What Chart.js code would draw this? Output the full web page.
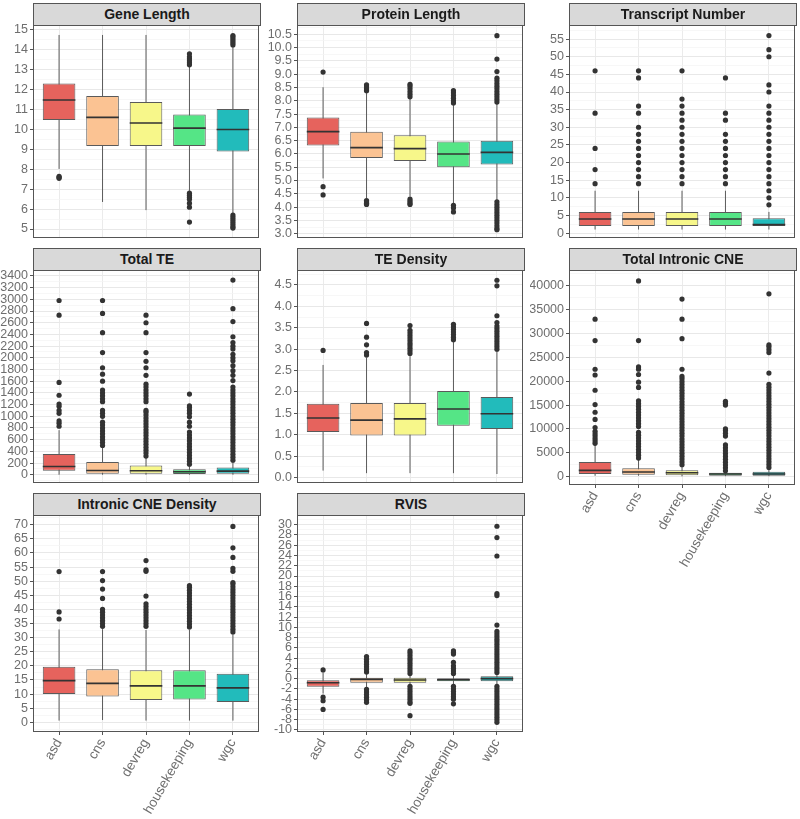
<!DOCTYPE html>
<html>
<head>
<meta charset="utf-8">
<script src="https://cdn.jsdelivr.net/npm/chart.js@4.4.0/dist/chart.umd.min.js"></script>
<style>
body { margin: 0; background: #fff; width: 800px; height: 819px; position: relative; overflow: hidden; font-family: "Liberation Sans", Arial, sans-serif; }
.panel { position: absolute; }
.strip { position: absolute; background: #d9d9d9; border: 1px solid #555; box-sizing: border-box; text-align: center; font-weight: bold; font-size: 14px; color: #1a1a1a; z-index: 2; }
</style>
</head>
<body>
<script>
const categories = ['asd', 'cns', 'devreg', 'housekeeping', 'wgc']
const boxColors = ['#e6635d', '#fbc393', '#f7f78a', '#55e586', '#22bbbb']

// stats per category: [lower whisker, q1, median, q3, upper whisker]
const geneLengthStats = [[8.02, 10.48, 11.48, 12.31, 14.75], [6.36, 9.17, 10.61, 11.68, 14.75], [5.95, 9.17, 10.33, 11.38, 14.75], [6.92, 9.17, 10.07, 10.75, 13.2], [5.75, 8.89, 10.0, 11.03, 14.15]]
const geneLengthOut = [[7.55, 7.6, 7.65], [], [], [13.25, 13.35, 13.45, 13.55, 13.65, 13.8, 6.8, 6.7, 6.6, 6.5, 6.3, 6.1, 5.35], [14.25, 14.35, 14.45, 14.55, 14.65, 14.72, 5.7, 5.6, 5.5, 5.4, 5.3, 5.2, 5.1, 5.05]]
const geneLengthTicks = [5, 6, 7, 8, 9, 10, 11, 12, 13, 14, 15]

const proteinLengthStats = [[5.08, 6.32, 6.84, 7.37, 8.51], [4.33, 5.85, 6.24, 6.84, 8.3], [4.4, 5.74, 6.2, 6.7, 8.1], [4.15, 5.5, 6.0, 6.47, 7.85], [4.27, 5.6, 6.06, 6.5, 7.88]]
const proteinLengthOut = [[9.08, 4.77, 4.46], [8.38, 8.45, 8.52, 8.6, 4.25, 4.2, 4.15, 4.1], [8.15, 8.25, 8.35, 8.45, 8.55, 8.62, 4.3, 4.22, 4.15, 4.1], [7.92, 8.0, 8.1, 8.2, 8.3, 8.38, 4.07, 3.97, 3.82], [10.45, 9.57, 9.1, 7.95, 8.05, 8.15, 8.25, 8.35, 8.45, 8.55, 8.65, 8.75, 8.85, 4.2, 4.1, 4.0, 3.9, 3.8, 3.7, 3.6, 3.5, 3.4, 3.3, 3.2, 3.15]]
const proteinLengthTicks = [3.0, 3.5, 4.0, 4.5, 5.0, 5.5, 6.0, 6.5, 7.0, 7.5, 8.0, 8.5, 9.0, 9.5, 10.0, 10.5]

const transcriptStats = [[1, 2, 4, 6, 12], [1, 2, 4, 6, 12], [1, 2, 4, 6, 12], [1, 2, 4, 6, 12], [1, 2, 2.4, 4.2, 6]]
const transcriptOut = [[14, 18, 24, 34, 46], [14, 16, 18, 20, 22, 24, 26, 28, 30, 34, 36, 44, 46], [14, 16, 18, 20, 22, 24, 26, 28, 30, 32, 34, 36, 38, 46], [14, 16, 18, 20, 22, 24, 26, 28, 32, 34, 44], [8, 10, 12, 14, 16, 18, 20, 22, 24, 26, 28, 30, 32, 34, 36, 40, 42, 50, 52, 56]]
const transcriptTicks = [5, 10, 15, 20, 25, 30, 35, 40, 45, 50, 55]

const totalTEStats = [[0, 68, 141, 356, 763], [0, 17, 73, 220, 470], [0, 17, 68, 158, 300], [0, 11, 51, 96, 160], [0, 17, 62, 124, 230]]
const totalTEOut = [
  [830, 880, 920, 1050, 1100, 1170, 1210, 1360, 1580, 2730, 2980],
  [500, 550, 600, 650, 700, 750, 800, 850, 900, 1000, 1050, 1100, 1250, 1300, 1350, 1400, 1450, 1600, 1720, 1830, 2090, 2430, 2760, 2980],
  [320, 370, 420, 470, 520, 570, 620, 670, 720, 770, 820, 870, 920, 970, 1020, 1070, 1100, 1250, 1300, 1350, 1400, 1450, 1500, 1550, 1700, 1830, 1940, 2090, 2430, 2600, 2730],
  [180, 230, 280, 330, 380, 430, 480, 530, 580, 630, 680, 730, 830, 900, 990, 1050, 1100, 1150, 1180, 1380],
  [250, 300, 350, 400, 450, 500, 550, 600, 650, 700, 750, 800, 850, 900, 950, 1000, 1050, 1100, 1150, 1200, 1250, 1300, 1350, 1400, 1450, 1500, 1610, 1700, 1780, 1865, 1950, 2000, 2060, 2150, 2200, 2260, 2360, 2620, 2840, 3330]
]
const totalTETicks = [0, 200, 400, 600, 800, 1000, 1200, 1400, 1600, 1800, 2000, 2200, 2400, 2600, 2800, 3000, 3200, 3400]

const teDensityStats = [[0.16, 1.06, 1.39, 1.72, 2.63], [0.1, 0.98, 1.34, 1.74, 2.8], [0.1, 0.98, 1.37, 1.74, 2.85], [0.1, 1.21, 1.6, 2.02, 3.18], [0.08, 1.13, 1.49, 1.88, 2.97]]
const teDensityOut = [[2.97], [2.86, 2.92, 3.1, 3.28, 3.6], [2.9, 2.96, 3.02, 3.08, 3.14, 3.2, 3.26, 3.32, 3.38, 3.44, 3.55], [3.22, 3.28, 3.34, 3.4, 3.46, 3.52, 3.58], [3.0, 3.06, 3.12, 3.18, 3.24, 3.3, 3.36, 3.42, 3.48, 3.54, 3.62, 3.78, 4.48, 4.61]]
const teDensityTicks = [0.0, 0.5, 1.0, 1.5, 2.0, 2.5, 3.0, 3.5, 4.0, 4.5]

const intronicCNEStats = [[200, 559, 1327, 3073, 6634], [200, 419, 978, 1746, 3800], [70, 280, 838, 1327, 2440], [100, 210, 559, 838, 1190], [100, 210, 559, 1047, 1885]]
const intronicCNEOut = [
  [7000, 7500, 8000, 8500, 9000, 9500, 10300, 12000, 13500, 15100, 18100, 21300, 22500, 28500, 33000],
  [3900, 4500, 5100, 5700, 6300, 6900, 7500, 8100, 8700, 9300, 10500, 11100, 11700, 12300, 12900, 13500, 14100, 14700, 15300, 15900, 18700, 19800, 21400, 22500, 23000, 28500, 41000],
  [2500, 3100, 3700, 4300, 4900, 5500, 6100, 6700, 7300, 7900, 8500, 9100, 9700, 10300, 10900, 11500, 12100, 12700, 13300, 13900, 14500, 15100, 15700, 16300, 16900, 17500, 18100, 18700, 19300, 19900, 20500, 21000, 22500, 28900, 33000, 37200],
  [1250, 1850, 2450, 3050, 3650, 4250, 4850, 5450, 6050, 6650, 8500, 9100, 9700, 10000, 15000, 15400, 15800],
  [1950, 2550, 3150, 3750, 4350, 4950, 5550, 6150, 6750, 7350, 7950, 8550, 9150, 9750, 10350, 10950, 11550, 12150, 12750, 13350, 13950, 14550, 15150, 15750, 16350, 16950, 17550, 18150, 18750, 19350, 21700, 26000, 26600, 27200, 27600, 38300]
]
const intronicCNETicks = [0, 5000, 10000, 15000, 20000, 25000, 30000, 35000, 40000]

const cneDensityStats = [[0.6, 10.03, 14.76, 19.7, 32.9], [0.8, 9.1, 13.8, 18.8, 33], [0.6, 7.9, 12.9, 18.4, 32.7], [0.6, 8.1, 12.9, 18.4, 32.9], [0.6, 7.2, 12.2, 17.2, 31.2]]
const cneDensityOut = [
  [36.6, 39.1, 53.4],
  [34, 35, 36, 37, 38, 39, 40, 43.9, 47.2, 50.2, 53.4],
  [34, 35, 36, 37, 38, 39, 40, 41, 42, 44.7, 53.5, 54, 57.3],
  [33.8, 34.8, 35.8, 36.8, 37.8, 38.8, 39.8, 40.8, 41.8, 42.8, 43.8, 44.8, 45.8, 46.8, 47.8, 48.4],
  [32, 33, 34, 35, 36, 37, 38, 39, 40, 41, 42, 43, 44, 45, 46, 47, 48, 49, 49.5, 53.5, 54.5, 58.4, 61.8, 69.4]
]
const cneDensityTicks = [0, 5, 10, 15, 20, 25, 30, 35, 40, 45, 50, 55, 60, 65, 70]

const rvisStats = [[-2.9, -1.56, -0.78, -0.32, 1.2], [-1.9, -0.78, -0.13, 0.19, 1.1], [-1.4, -0.8, -0.26, 0.2, 0.9], [-1.4, -0.5, -0.2, 0.06, 0.9], [-1.4, -0.52, 0, 0.45, 1.1]]
const rvisOut = [
  [1.7, -3.6, -4.3, -6.0],
  [1.3, 1.8, 2.3, 2.8, 3.3, 3.8, 4.3, -2.1, -2.6, -3.1, -3.6, -4.1, -4.6],
  [1.0, 1.5, 2.0, 2.5, 3.0, 3.5, 4.0, 4.5, 5.0, 5.4, -1.5, -2.0, -2.5, -3.0, -3.5, -4.0, -4.5, -4.8, -7.2],
  [1.0, 1.5, 2.0, 2.5, 3.2, 4.8, 5.1, 5.4, -1.5, -2.0, -2.5, -3.0, -3.5, -4.0, -4.9],
  [1.2, 1.7, 2.2, 2.7, 3.2, 3.7, 4.2, 4.7, 5.2, 5.7, 6.2, 6.7, 7.2, 7.7, 8.2, 8.7, 9.2, 10.45, 16.2, 16.6, 23.9, 27.5, 29.7, -1.5, -2.0, -2.5, -3.0, -3.5, -4.0, -4.5, -5.0, -5.5, -6.0, -6.5, -7.0, -7.5, -8.0, -8.5]
]
const rvisTicks = [-10, -8, -6, -4, -2, 0, 2, 4, 6, 8, 10, 12, 14, 16, 18, 20, 22, 24, 26, 28, 30]

// layout of the facet grid (page pixels)
const colLeft = [33, 297, 569]
const axisW = [33, 32, 39]
const plotW = 227
const stripTop = [3, 248, 493]
const stripH = 22
const plotBottom = [240, 485, 732]
const xAxisH = 87
const textColor = '#6e6e6e'

const panels = [
  { title: 'Gene Length', stats: geneLengthStats, out: geneLengthOut, ticks: geneLengthTicks, dec: 0, min: 4.55, max: 15.25, col: 0, row: 0 },
  { title: 'Protein Length', stats: proteinLengthStats, out: proteinLengthOut, ticks: proteinLengthTicks, dec: 1, min: 2.84, max: 10.85, col: 1, row: 0 },
  { title: 'Transcript Number', stats: transcriptStats, out: transcriptOut, ticks: [0].concat(transcriptTicks), dec: 0, min: -1.4, max: 59, col: 2, row: 0 },
  { title: 'Total TE', stats: totalTEStats, out: totalTEOut, ticks: totalTETicks, dec: 0, min: -141, max: 3502, col: 0, row: 1 },
  { title: 'TE Density', stats: teDensityStats, out: teDensityOut, ticks: teDensityTicks, dec: 1, min: -0.13, max: 4.85, col: 1, row: 1 },
  { title: 'Total Intronic CNE', stats: intronicCNEStats, out: intronicCNEOut, ticks: intronicCNETicks, dec: 0, min: -1738, max: 43288, col: 2, row: 1, xLabels: true },
  { title: 'Intronic CNE Density', stats: cneDensityStats, out: cneDensityOut, ticks: cneDensityTicks, dec: 0, min: -3.44, max: 73.44, col: 0, row: 2, xLabels: true },
  { title: 'RVIS', stats: rvisStats, out: rvisOut, ticks: rvisTicks, dec: 0, min: -10.39, max: 31.89, col: 1, row: 2, xLabels: true }
]

Chart.defaults.font.family = '"Liberation Sans", Arial, sans-serif'

const panelBorder = {
  id: 'panelBorder',
  afterDraw(chart) {
    const a = chart.chartArea
    const ctx = chart.ctx
    ctx.save()
    ctx.strokeStyle = '#555'
    ctx.lineWidth = 1
    ctx.strokeRect(Math.round(a.left) + 0.5, Math.round(a.top) + 0.5, Math.round(a.right - a.left) - 1, Math.round(a.bottom - a.top) - 1)
    ctx.restore()
  }
}

function yTicks(p) {
  const step = p.ticks[1] - p.ticks[0]
  let list = p.ticks.map(v => ({ value: v }))
  const minors = []
  for (let i = 0; i < p.ticks.length - 1; i++) minors.push(p.ticks[i] + step / 2)
  if (p.ticks[0] - step / 2 > p.min) minors.push(p.ticks[0] - step / 2)
  const last = p.ticks[p.ticks.length - 1]
  if (last + step / 2 < p.max) minors.push(last + step / 2)
  minors.forEach(v => list.push({ value: v, minor: true }))
  list.sort((a, b) => a.value - b.value)
  return list
}

function isMinor(c) {
  return c.tick && c.tick.minor
}

function makePanel(p) {
  const top = stripTop[p.row]
  const plotH = plotBottom[p.row] - top - stripH
  const w = axisW[p.col] + plotW + 3
  const h = stripH + plotH + (p.xLabels ? xAxisH : 2)

  const div = document.createElement('div')
  div.className = 'panel'
  div.style.left = (colLeft[p.col] - axisW[p.col]) + 'px'
  div.style.top = top + 'px'
  div.style.width = w + 'px'
  div.style.height = h + 'px'
  const canvas = document.createElement('canvas')
  canvas.width = w
  canvas.height = h
  div.appendChild(canvas)
  document.body.appendChild(div)

  const strip = document.createElement('div')
  strip.className = 'strip'
  strip.style.left = colLeft[p.col] + 'px'
  strip.style.top = top + 'px'
  strip.style.width = (plotW + 1) + 'px'
  strip.style.height = (stripH + 1) + 'px'
  strip.style.lineHeight = (stripH - 1) + 'px'
  strip.textContent = p.title
  document.body.appendChild(strip)

  const whiskers = []
  const medians = []
  p.stats.forEach((s, i) => {
    const x = i + 1
    whiskers.push({ x: x, y: s[0] }, { x: x, y: s[4] }, { x: x, y: null })
    medians.push({ x: x - 0.375, y: s[2] }, { x: x + 0.375, y: s[2] }, { x: x + 0.375, y: null })
  })
  const outliers = []
  p.out.forEach((arr, i) => arr.forEach(v => outliers.push({ x: i + 1, y: v })))

  new Chart(canvas, {
    type: 'bar',
    data: {
      datasets: [
        { type: 'scatter', data: outliers, pointRadius: 2.6, pointBackgroundColor: '#333', pointBorderWidth: 0, order: 0 },
        { type: 'line', data: medians, borderColor: '#333', borderWidth: 1.6, pointRadius: 0, spanGaps: false, order: 1 },
        { type: 'bar', data: p.stats.map((s, i) => ({ x: i + 1, y: [s[1], s[3]] })), backgroundColor: boxColors, borderColor: '#5a5a5a', borderWidth: 1, borderSkipped: false, barPercentage: 0.75, categoryPercentage: 1, order: 2 },
        { type: 'line', data: whiskers, borderColor: '#5a5a5a', borderWidth: 1, pointRadius: 0, spanGaps: false, order: 3 }
      ]
    },
    options: {
      responsive: false,
      animation: false,
      devicePixelRatio: 1,
      layout: { padding: { top: stripH, right: 3, bottom: p.xLabels ? 0 : 2, left: 0 } },
      plugins: { legend: { display: false }, tooltip: { enabled: false } },
      scales: {
        x: {
          type: 'linear', min: 0.4, max: 5.6, offset: false,
          afterBuildTicks: s => { s.ticks = categories.map((c, i) => ({ value: i + 1 })) },
          afterFit: s => { s.height = p.xLabels ? xAxisH : 0; s.paddingLeft = 0; s.paddingRight = 0 },
          ticks: { display: !!p.xLabels, autoSkip: false, minRotation: 60, maxRotation: 60, padding: 1, color: textColor, font: { size: 13.5 }, callback: v => categories[v - 1] },
          grid: { color: '#ebebeb', offset: false, drawTicks: !!p.xLabels, tickLength: 3, tickColor: '#555' },
          border: { display: false }
        },
        y: {
          type: 'linear', min: p.min, max: p.max,
          afterBuildTicks: s => { s.ticks = yTicks(p) },
          afterFit: s => { s.width = axisW[p.col]; s.paddingTop = 0; s.paddingBottom = 0 },
          ticks: { autoSkip: false, padding: 2, color: textColor, font: { size: 12.5 }, callback: (v, i, t) => t[i].minor ? '' : v.toFixed(p.dec) },
          grid: {
            color: c => isMinor(c) ? '#f4f4f4' : '#e8e8e8',
            lineWidth: c => isMinor(c) ? 0.7 : 1,
            tickLength: 3,
            tickColor: c => isMinor(c) ? 'rgba(0,0,0,0)' : '#555'
          },
          border: { display: false }
        }
      }
    },
    plugins: [panelBorder]
  })
}

panels.forEach(makePanel)
</script>
</body>
</html>
